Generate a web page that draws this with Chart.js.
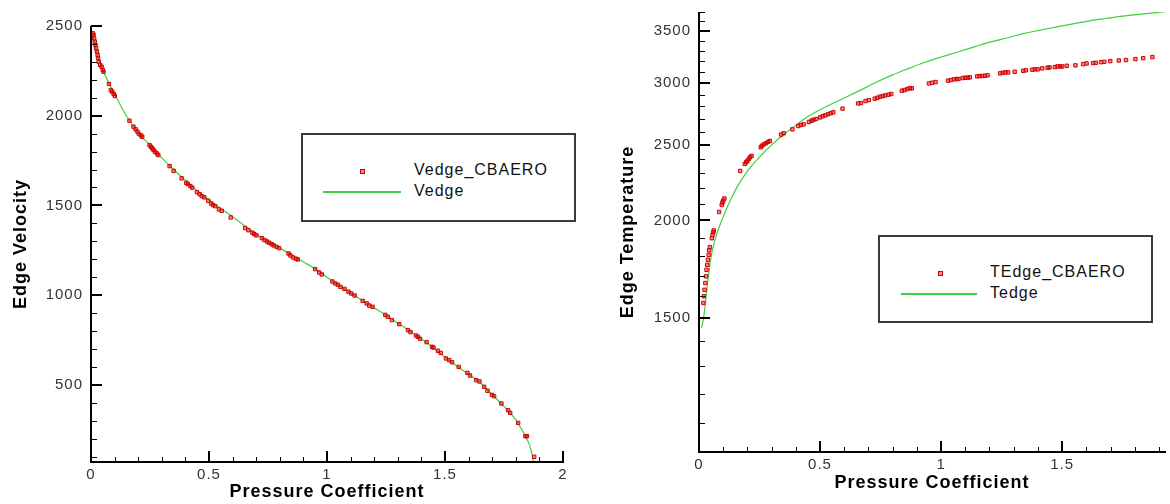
<!DOCTYPE html>
<html>
<head>
<meta charset="utf-8">
<script src="https://cdn.jsdelivr.net/npm/chart.js@4.4.1/dist/chart.umd.min.js"></script>
<style>
html,body{margin:0;padding:0;background:#fff;width:1170px;height:504px;overflow:hidden;position:relative;}
#c1{position:absolute;left:0;top:0;}
#c2{position:absolute;left:608px;top:0;}
.legend{position:absolute;border:2px solid #3a3a3a;box-sizing:border-box;background:#fff;font-family:"Liberation Sans",Arial,sans-serif;font-size:16px;letter-spacing:1px;color:#111;}
.legend .mk{position:absolute;width:3px;height:3px;border:1px solid #d00000;background:rgba(230,0,0,0.45);}
.legend .ln{position:absolute;height:0;border-top:2px solid #3fd03f;}
.legend .tx{position:absolute;line-height:20px;white-space:nowrap;}
</style>
</head>
<body>
<canvas id="c1" width="608" height="504"></canvas>
<canvas id="c2" width="562" height="504"></canvas>

<div class="legend" id="lg1" style="left:301px;top:133px;width:275px;height:89px;">
  <div class="mk" style="left:57px;top:34px;"></div>
  <div class="tx" style="left:111px;top:25px;">Vedge_CBAERO</div>
  <div class="ln" style="left:20px;top:56px;width:78px;"></div>
  <div class="tx" style="left:111px;top:46px;">Vedge</div>
</div>
<div class="legend" id="lg2" style="left:878px;top:235px;width:275px;height:88px;">
  <div class="mk" style="left:58px;top:34px;"></div>
  <div class="tx" style="left:110px;top:25px;">TEdge_CBAERO</div>
  <div class="ln" style="left:21px;top:56px;width:76px;"></div>
  <div class="tx" style="left:110px;top:46px;">Tedge</div>
</div>

<script>
// ---------- DATA ----------
// Left chart: Edge Velocity vs Pressure Coefficient
const velCbaeroCp = [0.008,0.011,0.013,0.016,0.019,0.022,0.025,0.028,0.030,0.033,0.039,0.045,0.050,0.053,
  0.076,0.084,0.090,0.096,0.101,0.163,0.180,0.189,0.197,0.203,0.212,0.217,
  0.248,0.254,0.260,0.265,0.271,0.279,0.285,0.333,0.350,0.384,0.404,0.410,0.421,0.429,
  0.449,0.460,0.469,0.480,0.497,0.509,0.517,0.526,0.542,0.554,0.592,
  0.653,0.667,0.684,0.692,0.701,0.724,0.735,0.746,0.755,0.766,0.774,0.786,0.797,
  0.837,0.845,0.856,0.868,0.876,0.950,0.967,0.978,1.023,1.035,1.046,1.057,1.074,
  1.091,1.103,1.117,1.151,1.168,1.179,1.193,1.247,1.258,1.275,1.306,1.343,1.354,
  1.377,1.385,1.394,1.422,1.445,1.451,1.470,1.482,1.504,1.518,1.530,1.558,1.595,1.606,
  1.632,1.646,1.666,1.680,1.699,1.708,1.739,1.767,1.776,1.810,1.841,1.847,1.878];
const velCbaero = [2459,2450,2431,2413,2394,2376,2357,2338,2320,2301,2283,2273,2255,2245,
  2177,2143,2134,2121,2110,1972,1939,1924,1911,1898,1890,1883,
  1836,1827,1818,1809,1799,1790,1781,1719,1693,1651,1626,1619,1608,1599,
  1574,1563,1552,1545,1526,1511,1502,1496,1478,1470,1433,
  1374,1362,1348,1340,1333,1318,1307,1299,1292,1284,1277,1270,1262,
  1232,1221,1210,1203,1199,1145,1126,1115,1076,1065,1058,1046,1035,
  1019,1009,998,968,954,942,935,890,879,861,838,805,794,
  775,768,757,738,712,708,690,678,647,638,626,600,567,552,
  526,519,489,467,444,437,396,359,344,288,214,214,99];
const velLineCp = [0.003,0.03,0.05,0.08,0.10,0.15,0.20,0.25,0.30,0.35,0.40,0.45,0.50,0.55,0.60,0.65,0.70,0.75,0.80,
  0.85,0.90,0.95,1.00,1.05,1.10,1.15,1.20,1.25,1.30,1.35,1.40,1.45,1.50,1.55,1.60,1.65,1.70,1.75,1.80,1.83,1.85,1.865,1.875];
const velLine = [2475,2325,2255,2170,2120,2000,1905,1836,1765,1700,1640,1582,1530,1482,1437,1387,1340,1298,1262,
  1224,1185,1147,1100,1055,1012,970,929,888,845,800,755,708,654,605,560,510,445,380,305,240,190,135,70];
const velXTicks = [0,0.5,1,1.5,2];
const velYTicks = [500,1000,1500,2000,2500];

// Right chart: Edge Temperature vs Pressure Coefficient (log y)
const tempCbaeroCp = [0.018,0.020,0.023,0.026,0.029,0.031,0.034,0.037,0.040,0.042,0.045,
  0.053,0.056,0.059,0.061,0.083,0.094,0.097,0.100,0.105,0.170,0.189,0.195,0.200,0.206,0.211,0.217,
  0.255,0.260,0.268,0.277,0.285,0.293,0.339,0.350,0.386,0.410,0.421,0.432,0.454,0.465,0.473,0.484,
  0.500,0.511,0.522,0.533,0.544,0.555,0.593,0.658,0.669,0.688,0.702,0.726,0.737,0.748,0.759,0.770,0.783,0.794,
  0.838,0.849,0.860,0.871,0.879,0.950,0.963,0.977,1.029,1.040,1.053,1.064,1.072,1.089,1.100,1.110,1.119,
  1.149,1.159,1.170,1.181,1.192,1.244,1.255,1.266,1.277,1.304,1.339,1.350,1.377,1.388,1.399,1.418,
  1.440,1.448,1.470,1.481,1.492,1.500,1.519,1.555,1.587,1.601,1.628,1.639,1.661,1.674,1.699,1.734,1.764,1.803,1.835,1.873];
const tempCbaero = [1568,1599,1630,1663,1696,1729,1755,1781,1807,1831,1849,
  1898,1917,1932,1942,2051,2094,2109,2121,2134,2315,2363,2375,2386,2398,2410,2420,
  2482,2494,2504,2512,2522,2529,2577,2587,2617,2643,2651,2656,2675,2685,2693,2698,
  2711,2720,2728,2736,2744,2752,2782,2825,2828,2845,2853,2865,2873,2882,2887,2893,2899,2905,
  2933,2939,2948,2954,2954,2997,3003,3009,3021,3027,3033,3036,3036,3045,3048,3048,3051,
  3060,3063,3063,3066,3069,3087,3093,3096,3096,3102,3111,3115,3121,3124,3124,3133,
  3139,3142,3145,3151,3151,3151,3157,3161,3173,3179,3182,3185,3191,3194,3201,3207,3211,3220,3229,3239];
const tempLineCp = [0.011,0.02,0.034,0.048,0.066,0.095,0.13,0.16,0.19,0.22,0.26,0.30,0.35,0.40,0.45,0.5245,0.6,0.661,0.73,0.797,
  0.87,0.933,1.0,1.069,1.14,1.206,1.28,1.342,1.41,1.478,1.55,1.614,1.68,1.751,1.84,1.925];
const tempLine = [1457,1508,1647,1782,1890,2005,2125,2215,2290,2355,2430,2500,2578,2650,2718,2798,2870,2932,3005,3071,
  3135,3190,3240,3288,3340,3388,3432,3473,3508,3542,3575,3605,3630,3655,3680,3705];
const tempXTicks = [0,0.5,1,1.5];
const tempYTicks = [1500,2000,2500,3000,3500];

// ---------- STYLE ----------
const FONT = '"Liberation Sans", Arial, Helvetica, sans-serif';
const RED = '#d40000';
const GREEN = '#3fd03f';

function pts(xs, ys){ const n=Math.min(xs.length, ys.length); const o=[]; for(let i=0;i<n;i++) o.push({x:xs[i], y:ys[i]}); return o; }

function makeAxisPlugin(ax){
  return {
    id: 'tecAxes',
    beforeDraw(chart){ try { chart.ctx.letterSpacing = '1px'; } catch(e){} },
    afterDraw(chart){
      const ctx = chart.ctx, a = chart.chartArea, xs = chart.scales.x, ys = chart.scales.y;
      ctx.save();
      ctx.strokeStyle = '#000';
      ctx.lineWidth = 2;
      ctx.beginPath();
      ctx.moveTo(a.left, a.top);
      ctx.lineTo(a.left, a.bottom);
      ctx.lineTo(a.right + 1, a.bottom);
      ctx.stroke();
      for (let i = 0; i <= ax.xCount; i++) {
        const major = (i % 5 === 0);
        const px = Math.round(xs.getPixelForValue(i / 10));
        ctx.lineWidth = major ? 2 : 1;
        const xx = major ? px : px + 0.5;
        ctx.beginPath();
        ctx.moveTo(xx, a.bottom);
        ctx.lineTo(xx, a.bottom - (major ? 11 : 5));
        ctx.stroke();
      }
      for (let v = ax.yFrom; v <= ax.yTo; v += 100) {
        const major = (v % 500 === 0);
        const py = Math.round(ys.getPixelForValue(v));
        ctx.lineWidth = major ? 2 : 1;
        const yy = major ? py : py + 0.5;
        ctx.beginPath();
        ctx.moveTo(a.left, yy);
        ctx.lineTo(a.left + (major ? 11 : 6), yy);
        ctx.stroke();
      }
      ctx.restore();
    }
  };
}

function makeChart(id, cfg){
  return new Chart(document.getElementById(id), {
    type: 'scatter',
    data: {
      datasets: [
        { label: cfg.ptsLabel, data: pts(cfg.px, cfg.py), pointStyle: 'rect', pointRadius: 2.4,
          pointBorderWidth: 1, pointBorderColor: RED, pointBackgroundColor: 'rgba(225,0,0,0.45)', showLine: false },
        { label: cfg.lineLabel, data: pts(cfg.lx, cfg.ly), showLine: true, borderColor: GREEN, borderWidth: 1.2,
          pointRadius: 0, cubicInterpolationMode: 'monotone', fill: false }
      ]
    },
    options: {
      responsive: false, animation: false, devicePixelRatio: 1,
      layout: { padding: cfg.padding },
      plugins: { legend: { display: false }, tooltip: { enabled: false } },
      scales: {
        x: {
          type: 'linear', min: cfg.xMin, max: cfg.xMax,
          afterBuildTicks(s){ s.ticks = cfg.xTicks.map(v => ({ value: v })); },
          afterFit(s){ s.height = cfg.xHeight; s.paddingLeft = 0; s.paddingRight = 0; },
          grid: { display: false, drawTicks: false }, border: { display: false },
          ticks: { padding: 4, autoSkip: false, maxRotation: 0, color: '#333', font: { family: FONT, size: 15 },
                   callback: v => String(v) },
          title: { display: true, text: 'Pressure Coefficient', color: '#000',
                   font: { family: FONT, size: 18, weight: 'bold' }, padding: { top: 0, bottom: cfg.xTitlePad } }
        },
        y: {
          type: cfg.yType, min: cfg.yMin, max: cfg.yMax,
          afterBuildTicks(s){ s.ticks = cfg.yTicks.map(v => ({ value: v })); },
          afterFit(s){ s.width = 91; s.paddingTop = 0; s.paddingBottom = 0; },
          grid: { display: false, drawTicks: false }, border: { display: false },
          ticks: { padding: 8, autoSkip: false, color: '#333', font: { family: FONT, size: 15 },
                   callback: v => String(v) },
          title: { display: true, text: cfg.yTitle, color: '#000',
                   font: { family: FONT, size: 18, weight: 'bold' }, padding: { top: cfg.yTitlePad, bottom: 0 } }
        }
      }
    },
    plugins: [makeAxisPlugin(cfg.axes)]
  });
}

makeChart('c1', {
  ptsLabel: 'Vedge_CBAERO', lineLabel: 'Vedge',
  px: velCbaeroCp, py: velCbaero, lx: velLineCp, ly: velLine,
  xMin: 0, xMax: 2, yMin: 70, yMax: 2500, yType: 'linear',
  xTicks: velXTicks, yTicks: velYTicks, yTitle: 'Edge Velocity',
  padding: { top: 26, right: 45, left: 0, bottom: 0 }, xHeight: 42, xTitlePad: 1, yTitlePad: 10,
  axes: { xCount: 20, yFrom: 100, yTo: 2500 }
});

makeChart('c2', {
  ptsLabel: 'TEdge_CBAERO', lineLabel: 'Tedge',
  px: tempCbaeroCp, py: tempCbaero, lx: tempLineCp, ly: tempLine,
  xMin: 0, xMax: 1.925, yMin: 1010, yMax: 3700, yType: 'logarithmic',
  xTicks: tempXTicks, yTicks: tempYTicks, yTitle: 'Edge Temperature',
  padding: { top: 12, right: 0, left: 0, bottom: 0 }, xHeight: 52, xTitlePad: 10, yTitlePad: 9,
  axes: { xCount: 19, yFrom: 1100, yTo: 3700 }
});
</script>
</body>
</html>
